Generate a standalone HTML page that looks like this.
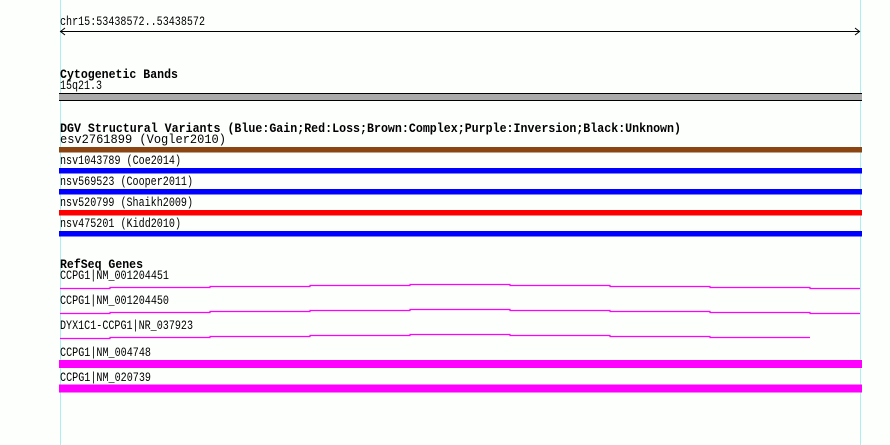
<!DOCTYPE html>
<html><head><meta charset="utf-8"><style>
html,body{margin:0;padding:0;background:#fff;}
svg{display:block}
text{font-family:"Liberation Mono",monospace;font-size:12.5px;fill:#000}
.b{font-weight:bold;font-size:13px}
</style></head><body>
<svg width="890" height="445" viewBox="0 0 890 445" xmlns="http://www.w3.org/2000/svg">
<rect width="890" height="445" fill="#fdfffd"/>
<line x1="60.5" y1="0" x2="60.5" y2="445" stroke="#aeeeee"/>
<line x1="860.5" y1="0" x2="860.5" y2="445" stroke="#aeeeee"/>
<text x="60" y="25" textLength="145" lengthAdjust="spacingAndGlyphs">chr15:53438572..53438572</text>
<line x1="60" y1="31.5" x2="860" y2="31.5" stroke="#000"/>
<polyline points="65,28 60.5,31.5 65,35" fill="none" stroke="#000"/>
<polyline points="855,28 859.5,31.5 855,35" fill="none" stroke="#000"/>
<text class="b" x="60" y="78" textLength="118" lengthAdjust="spacingAndGlyphs">Cytogenetic Bands</text>
<text x="60" y="89" textLength="42" lengthAdjust="spacingAndGlyphs">15q21.3</text>
<rect x="59" y="93.5" width="803" height="7" fill="#aaaaaa"/>
<line x1="59" y1="93.5" x2="862" y2="93.5" stroke="#000"/>
<line x1="59" y1="100.5" x2="862" y2="100.5" stroke="#000"/>
<text class="b" x="60" y="132" textLength="621" lengthAdjust="spacingAndGlyphs">DGV Structural Variants (Blue:Gain;Red:Loss;Brown:Complex;Purple:Inversion;Black:Unknown)</text>
<text x="60" y="143" textLength="166" lengthAdjust="spacingAndGlyphs">esv2761899 (Vogler2010)</text>
<rect x="59" y="147" width="803" height="5.5" fill="#8b4513"/>
<text x="60" y="164" textLength="121" lengthAdjust="spacingAndGlyphs">nsv1043789 (Coe2014)</text>
<rect x="59" y="168" width="803" height="5.5" fill="#0000ff"/>
<text x="60" y="185" textLength="133" lengthAdjust="spacingAndGlyphs">nsv569523 (Cooper2011)</text>
<rect x="59" y="189" width="803" height="5.5" fill="#0000ff"/>
<text x="60" y="206" textLength="133" lengthAdjust="spacingAndGlyphs">nsv520799 (Shaikh2009)</text>
<rect x="59" y="210" width="803" height="5.5" fill="#ff0000"/>
<text x="60" y="227" textLength="121" lengthAdjust="spacingAndGlyphs">nsv475201 (Kidd2010)</text>
<rect x="59" y="231" width="803" height="5.5" fill="#0000ff"/>
<text class="b" x="60" y="268" textLength="83" lengthAdjust="spacingAndGlyphs">RefSeq Genes</text>
<text x="60" y="279" textLength="109" lengthAdjust="spacingAndGlyphs">CCPG1|NM_001204451</text>
<g stroke="#ff00ff" stroke-width="1.2" fill="none">
<polyline points="60,288.5 110,288.5 110,287.5 210,287.5 210,286.5 310,286.5 310,285.5 410,285.5 410,284.5 510,284.5 510,285.5 610,285.5 610,286.5 710,286.5 710,287.5 810,287.5 810,288.5 860,288.5"/>
<polyline points="60,313.5 110,313.5 110,312.5 210,312.5 210,311.5 310,311.5 310,310.5 410,310.5 410,309.5 510,309.5 510,310.5 610,310.5 610,311.5 710,311.5 710,312.5 810,312.5 810,313.5 860,313.5"/>
<polyline points="60,338.5 110,338.5 110,337.5 210,337.5 210,336.5 310,336.5 310,335.5 410,335.5 410,334.5 510,334.5 510,335.5 610,335.5 610,336.5 710,336.5 710,337.5 810,337.5"/>
</g>
<text x="60" y="304" textLength="109" lengthAdjust="spacingAndGlyphs">CCPG1|NM_001204450</text>
<text x="60" y="329" textLength="133" lengthAdjust="spacingAndGlyphs">DYX1C1-CCPG1|NR_037923</text>
<text x="60" y="356" textLength="91" lengthAdjust="spacingAndGlyphs">CCPG1|NM_004748</text>
<rect x="59" y="360" width="803" height="8" fill="#ff00ff"/>
<text x="60" y="381" textLength="91" lengthAdjust="spacingAndGlyphs">CCPG1|NM_020739</text>
<rect x="59" y="384.5" width="803" height="8" fill="#ff00ff"/>
</svg>
</body></html>
